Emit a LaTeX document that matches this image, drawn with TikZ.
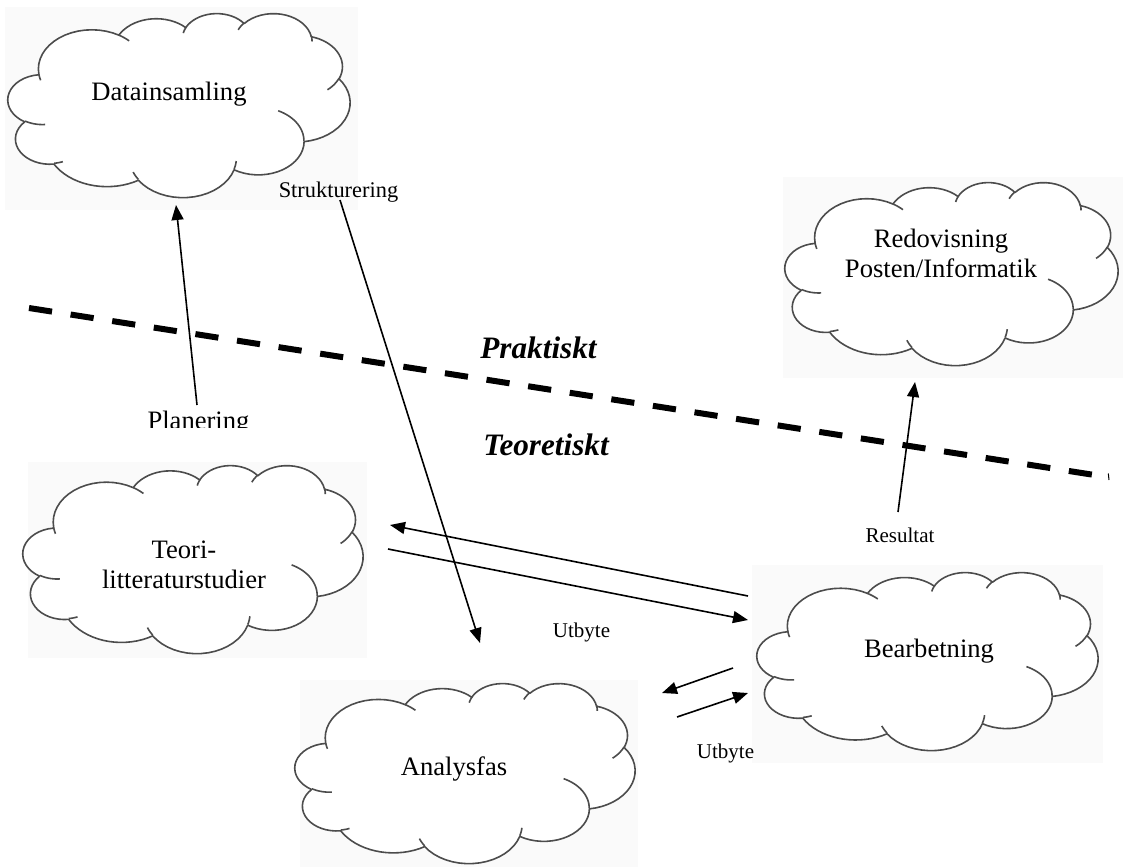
\documentclass[tikz,border=0pt]{standalone}
\usepackage{fontspec}
\setmainfont{Liberation Serif}
\usetikzlibrary{arrows.meta}

% ---------------------------------------------------------------
% Cloud outline: the classic cloud geometry (43.2 thousand units square),
% built from elliptic arcs given by radii and visual angles.
% Every arc is turned into a plot in a 0..100 unit box.
% ---------------------------------------------------------------
\newcommand\cloudfrom[2]{% start point, in thousands of units
  \pgfmathsetmacro\cpx{#1/0.432}\global\let\cpx\cpx
  \pgfmathsetmacro\cpy{#2/0.432}\global\let\cpy\cpy}
\newcommand\cloudprep[6]{% name, joint, wR, hR, start angle, sweep
  \pgfmathsetmacro\tmpA{atan2(#3/1000*sin(#5),#4/1000*cos(#5))}%
  \pgfmathsetmacro\tmpE{atan2(#3/1000*sin(#5+#6),#4/1000*cos(#5+#6))}%
  \pgfmathsetmacro\tmpB{\tmpA+Mod(\tmpE-\tmpA,360)}%
  \pgfmathsetmacro\tmpRx{#3/432}%
  \pgfmathsetmacro\tmpRy{#4/432}%
  \pgfmathsetmacro\tmpCx{\cpx-\tmpRx*cos(\tmpA)}%
  \pgfmathsetmacro\tmpCy{\cpy-\tmpRy*sin(\tmpA)}%
  \pgfmathsetmacro\cpxn{\tmpCx+\tmpRx*cos(\tmpB)}%
  \pgfmathsetmacro\cpyn{\tmpCy+\tmpRy*sin(\tmpB)}%
  \global\let\cpx\cpxn
  \global\let\cpy\cpyn
  \expandafter\xdef\csname #1\endcsname{#2 plot[domain=\tmpA:\tmpB, samples=18,
    variable=\noexpand\x] ({\tmpCx+\tmpRx*cos(\noexpand\x)},{\tmpCy+\tmpRy*sin(\noexpand\x)})}}

% outer outline
\cloudfrom{3.900}{14.370}
\cloudprep{cloudarcA}{}{6753}{9190}{-190.4875}{123.7805}
\cloudprep{cloudarcB}{--}{5333}{7267}{-144.1024}{89.9452}
\cloudprep{cloudarcC}{--}{4365}{5945}{-145.8079}{99.7230}
\cloudprep{cloudarcD}{--}{4857}{6595}{-130.9861}{117.2417}
\cloudprep{cloudarcE}{--}{5333}{7273}{-78.7089}{109.0269}
\cloudprep{cloudarcF}{--}{6775}{9220}{-46.2673}{130.2690}
\cloudprep{cloudarcG}{--}{5785}{7867}{0.6250}{114.0333}
\cloudprep{cloudarcH}{--}{6752}{9215}{22.4516}{115.1726}
\cloudprep{cloudarcI}{--}{7720}{10543}{66.2426}{75.7110}
\cloudprep{cloudarcJ}{--}{4360}{5918}{-274.9421}{146.7356}
\cloudprep{cloudarcK}{--}{4345}{5945}{-246.8285}{152.5189}
% short inner strokes where the puffs overlap
\cloudfrom{4.693}{26.177}\cloudprep{cloudinA}{}{4345}{5945}{86.7420}{26.4295}
\cloudfrom{6.928}{34.899}\cloudprep{cloudinB}{}{4360}{5918}{73.6105}{11.4475}
\cloudfrom{16.478}{39.090}\cloudprep{cloudinC}{}{6752}{9215}{137.6242}{14.0811}
\cloudfrom{28.827}{34.751}\cloudprep{cloudinD}{}{6752}{9215}{6.4533}{15.9984}
\cloudfrom{34.129}{22.954}\cloudprep{cloudinE}{}{5785}{7867}{-70.2924}{70.9174}
\cloudfrom{41.798}{15.354}\cloudprep{cloudinF}{}{5333}{7273}{30.3180}{27.7515}
\cloudfrom{38.324}{5.426}\cloudprep{cloudinG}{}{4857}{6595}{-13.7443}{14.8589}
\cloudfrom{29.078}{3.952}\cloudprep{cloudinH}{}{4857}{6595}{-149.1815}{18.1954}
\cloudfrom{22.141}{4.720}\cloudprep{cloudinI}{}{4365}{5945}{-163.4943}{17.6864}
\cloudfrom{14.000}{5.192}\cloudprep{cloudinJ}{}{6753}{9190}{-66.7070}{12.3194}
\cloudfrom{4.127}{15.789}\cloudprep{cloudinK}{}{6753}{9190}{157.6544}{11.8582}

% Cloud in the box with top left corner (#1,#2), width #3, height #4 (pixels)
\newcommand\drawcloud[4]{%
  \pgfmathsetmacro\cloudux{#3/200}%
  \pgfmathsetmacro\clouduy{#4/200}%
  \begin{scope}[shift={(#1,#2)}, x=\cloudux pt, y=-\clouduy pt]
    \filldraw[cloudline, fill=white] \cloudarcA \cloudarcB \cloudarcC
      \cloudarcD \cloudarcE \cloudarcF \cloudarcG \cloudarcH
      \cloudarcI \cloudarcJ \cloudarcK -- cycle;
    \draw[cloudline] \cloudinA \cloudinB \cloudinC \cloudinD \cloudinE
      \cloudinF \cloudinG \cloudinH \cloudinI \cloudinJ \cloudinK;
  \end{scope}}

\begin{document}
\begin{tikzpicture}[x=0.5pt, y=-0.5pt,
  cloudline/.style={draw=black!70, line width=0.8pt, line join=round},
  backrect/.style={fill=black!2, draw=none},
  arr/.style={line width=0.8pt, -{Triangle[length=7.5pt,width=6pt]}},
  lbl/.style={inner sep=0pt, anchor=base, font=\fontsize{13.3}{15}\selectfont},
  smalllbl/.style={inner sep=0pt, anchor=base, font=\fontsize{10.5}{12}\selectfont},
  zone/.style={inner sep=0pt, anchor=base,
               font=\fontsize{15.6}{18}\selectfont\bfseries\itshape},
  divider/.style={line width=3pt, dash pattern=on 11.65pt off 9.4pt},
]
\useasboundingbox (0,0) rectangle (1123,867);

% faint picture frames behind the clouds
\fill[backrect] (5,7) rectangle (358,210);
\fill[backrect] (783,177) rectangle (1123,378);
\fill[backrect] (28,462) rectangle (367,658);
\fill[backrect] (752,565) rectangle (1103,763);
\fill[backrect] (300,680) rectangle (638,867);

% clouds
\drawcloud{8}{13}{342}{184}
\drawcloud{785}{182}{333}{183}
\drawcloud{23}{465}{340}{188}
\drawcloud{757}{572}{341}{178}
\drawcloud{295}{683}{340}{180}

% labels (two-line labels are anchored at the baseline of their last line)
\node[lbl] (datainsamling) at (169,100) {Datainsamling};
\node[lbl, align=center] (redovisning) at (941,277) {Redovisning\\Posten/Informatik};
\node[lbl, align=center] (teori) at (184,588) {Teori-\\litteraturstudier};
\node[lbl] (bearbetning) at (929,657) {Bearbetning};
\node[lbl] (analysfas) at (454,775) {Analysfas};
\node[inner sep=0pt, anchor=base, font=\fontsize{11.2}{13}\selectfont]
  (strukturering) at (338.5,197) {Strukturering};
\begin{scope}
  \clip (120,390) rectangle (280,427);
  \node[lbl] (planering) at (198.5,429) {Planering};
\end{scope}
\node[zone] (praktiskt) at (538.5,358) {Praktiskt};
\node[zone] (teoretiskt) at (546,455) {Teoretiskt};
\node[smalllbl] (utbyteA) at (581.5,637) {Utbyte};
\node[smalllbl] (utbyteB) at (725.5,758) {Utbyte};
\node[smalllbl] (resultat) at (900,542) {Resultat};

% end points of the connectors
\coordinate (divS) at (29,308);
\coordinate (divE) at (1092,474.6);
\coordinate (tickS) at (1108.3,473.5);
\coordinate (tickE) at (1109,480);
\coordinate (planS) at (197,405);
\coordinate (planE) at (176,205);
\coordinate (strS) at (340,200);
\coordinate (strE) at (480,643);
\coordinate (tbS) at (748,596);
\coordinate (tbE) at (390,525);
\coordinate (btS) at (388,549);
\coordinate (btE) at (748,620);
\coordinate (abS) at (733,668);
\coordinate (abE) at (662,693);
\coordinate (baS) at (677,717);
\coordinate (baE) at (748,693);
\coordinate (resS) at (898,512);
\coordinate (resE) at (915,382);

% boundary between practice and theory
\draw[divider] (divS) -- (divE);
\draw[line width=0.5pt] (tickS) -- (tickE);

% connectors
\draw[arr] (planS) -- (planE);
\draw[arr] (strS) -- (strE);
\draw[arr] (tbS) -- (tbE);
\draw[arr] (btS) -- (btE);
\draw[arr] (abS) -- (abE);
\draw[arr] (baS) -- (baE);
\draw[arr] (resS) -- (resE);
\end{tikzpicture}
\end{document}
